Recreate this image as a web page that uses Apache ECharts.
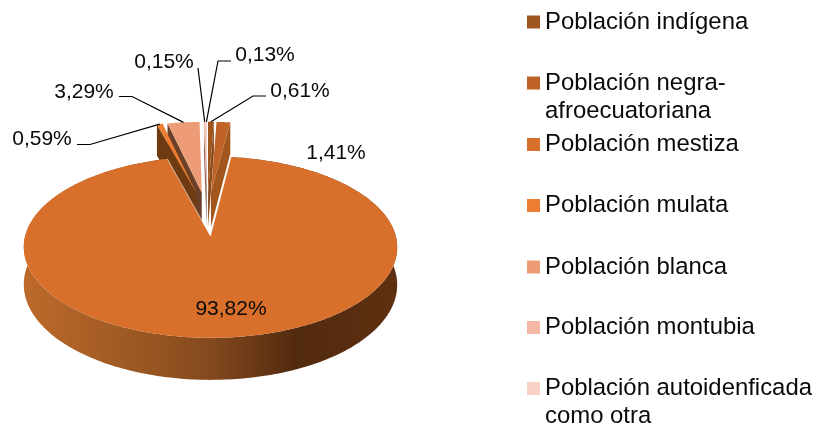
<!DOCTYPE html>
<html><head><meta charset="utf-8">
<style>html,body{margin:0;padding:0;background:#fff;overflow:hidden}#c{width:814px;height:423px}</style>
<script src="https://cdn.jsdelivr.net/npm/echarts@6/dist/echarts.min.js"></script>
</head><body><div id="c"></div>
<script>
var categories = ['Población indígena','Población negra-\nafroecuatoriana','Población mestiza','Población mulata','Población blanca','Población montubia','Población autoidenficada\ncomo otra'];
var values = [0.61,1.41,93.82,0.59,3.29,0.15,0.13];
var colors = ['#a0561f','#bf6426','#d8702c','#ed7d31','#ee9c78','#f4b8a4','#f8d0c5'];
var wallColors = ['#8a4a1a','#a0561c','#b8682a','#6e3a12','#6b4029','#8f6a5a','#a08478'];
var legendTops = [22,83,144.5,205.5,267,327.5,388.5];
var labelPos = [[300,91],[336,153],[231,309],[42,139],[84,92],[164,62],[265,55]];
var leaderPts = [[[266,96],[253,96]],null,null,[[77,144.5],[90,144.5]],[[119,96.5],[132,96.5]],[[198,68]],[[231,61],[218,61]]];
var CX=207.2, CY=213.5, A=179.5, B=83.8, P=0.12, E=0.26, H=35.7;
var FONT='21px "Liberation Sans", Arial, sans-serif';
var LEGEND_FONT='23.9px "Liberation Sans", Arial, sans-serif';
var total=values.reduce(function(a,b){return a+b;},0);
var rad=Math.PI/180;
var slices=[],acc=0;
values.forEach(function(v){var s=acc/total*360;acc+=v;var e=acc/total*360;slices.push({s:s,e:e,m:(s+e)/2});});
function project(u,v,down){var w=1+P*v;return [CX+A*u/w, CY-B*v/w+(down?H/w:0)];}
function groundAt(sl,theta,r){var du=E*Math.sin(sl.m*rad),dv=E*Math.cos(sl.m*rad);return [du+r*Math.sin(theta*rad),dv+r*Math.cos(theta*rad)];}
function pt(sl,theta,r,down){var g=groundAt(sl,theta,r);return project(g[0],g[1],down);}
function arc(sl,down){var pts=[],n=Math.max(2,Math.ceil((sl.e-sl.s)));for(var i=0;i<=n;i++){pts.push(pt(sl,sl.s+(sl.e-sl.s)*i/n,1,down));}return pts;}
function makeRender(i){
  return function(){
    var sl=slices[i],children=[];
    var top=arc(sl,false),apex=pt(sl,0,0,false);
    if(values[i]>50){
      var bottom=arc(sl,true).reverse();
      children.push({type:'polygon',shape:{points:top.concat(bottom)},style:{
        fill:new echarts.graphic.LinearGradient(0,0,1,0,[
          {offset:0,color:'#bd6a2b'},{offset:0.3,color:'#9c5822'},{offset:0.5,color:'#84491f'},
          {offset:0.73,color:'#522a0e'},{offset:1,color:'#5e3010'}])}});
    }else{
      var th=sl.m>180?sl.s:sl.e;
      children.push({type:'polygon',shape:{points:[apex,pt(sl,th,1,false),pt(sl,th,1,true),pt(sl,0,0,true)]},style:{fill:wallColors[i]}});
    }
    children.push({type:'polygon',shape:{points:[apex].concat(top)},style:{fill:colors[i]}});
    if(values[i]>50){children.push({type:'polyline',shape:{points:[top[0],apex,top[top.length-1]]},style:{fill:null,stroke:'#fff',lineWidth:0.6}});}
    return {type:'group',children:children};
  };
}
function fmt(v){return v.toFixed(2).replace('.',',')+'%';}
function renderLabels(){
  var children=[];
  values.forEach(function(v,i){
    var sl=slices[i];
    if(leaderPts[i]){children.push({type:'polyline',shape:{points:leaderPts[i].concat([pt(sl,sl.m,1,false)])},style:{fill:null,stroke:'#000',lineWidth:1.2}});}
    children.push({type:'text',style:{text:fmt(v),x:labelPos[i][0],y:labelPos[i][1],font:FONT,fill:'#0a0a0a',align:'center',verticalAlign:'middle'}});
  });
  return {type:'group',children:children};
}
var drawOrder=[0,6,5,1,4,3,2];
var series=drawOrder.map(function(i){
  return {type:'custom',name:categories[i],coordinateSystem:'none',silent:true,itemStyle:{color:colors[i]},renderItem:makeRender(i),data:[[values[i]]]};
});
series.push({type:'custom',name:'etiquetas',coordinateSystem:'none',silent:true,renderItem:renderLabels,data:[[0]]});
var legends=[],graphics=[];
categories.forEach(function(c,i){
  var parts=c.split('\n');
  legends.push({data:[{name:c,icon:'rect'}],left:527,top:legendTops[i]-12.5,padding:0,itemWidth:13,itemHeight:13,selectedMode:false,formatter:function(){return parts[0];},itemStyle:{borderWidth:0},
    textStyle:{fontFamily:'"Liberation Sans", Arial, sans-serif',fontSize:23.9,color:'#0a0a0a',height:25,lineHeight:25}});
  if(parts[1]){graphics.push({type:'text',left:545,top:legendTops[i]+16,style:{text:parts[1],font:LEGEND_FONT,fill:'#0a0a0a'}});}
});
var chart=echarts.init(document.getElementById('c'),null,{renderer:'canvas'});
chart.setOption({animation:false,backgroundColor:'#fff',legend:legends,series:series,graphic:graphics});
</script></body></html>
